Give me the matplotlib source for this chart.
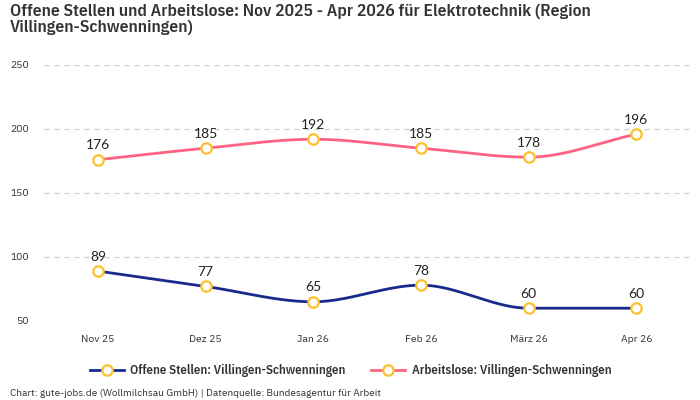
import numpy as np
from matplotlib import pyplot as plt
from matplotlib.lines import Line2D

months = ["Nov 25", "Dez 25", "Jan 26", "Feb 26", "März 26", "Apr 26"]
offene = [89, 77, 65, 78, 60, 60]
arbeitslose = [176, 185, 192, 185, 178, 196]
yticks = [50, 100, 150, 200, 250]

navy = "#1a2a8c"
pink = "#ff6384"
yellow = "#fbc02d"

title_font = ["IBM Plex Sans Condensed", "DejaVu Sans"]
body_font = ["IBM Plex Sans", "DejaVu Sans"]
label_font = ["Lato", "DejaVu Sans"]


def monotone(xs, ys, n=40):
    # Fritsch-Carlson monotone cubic path through the data points
    xs = np.asarray(xs, float)
    ys = np.asarray(ys, float)
    d = np.diff(ys) / np.diff(xs)
    m = np.zeros(len(xs))
    m[0], m[-1] = d[0], d[-1]
    for i in range(1, len(xs) - 1):
        if d[i - 1] * d[i] <= 0:
            m[i] = 0
        else:
            m[i] = (d[i - 1] + d[i]) / 2
    for i in range(len(d)):
        if d[i] == 0:
            m[i] = m[i + 1] = 0
        else:
            a, b = m[i] / d[i], m[i + 1] / d[i]
            s = a * a + b * b
            if s > 9:
                t = 3 / np.sqrt(s)
                m[i], m[i + 1] = t * a * d[i], t * b * d[i]
    px, py = [], []
    for i in range(len(d)):
        h = xs[i + 1] - xs[i]
        t = np.linspace(0, 1, n)
        h00 = 2 * t**3 - 3 * t**2 + 1
        h10 = t**3 - 2 * t**2 + t
        h01 = -2 * t**3 + 3 * t**2
        h11 = t**3 - t**2
        px.extend(xs[i] + t * h)
        py.extend(h00 * ys[i] + h10 * h * m[i] + h01 * ys[i + 1] + h11 * h * m[i + 1])
    return np.array(px), np.array(py)


fig = plt.figure(figsize=(7, 4), dpi=100)
ax = fig.add_axes([0.063, 0.1975, 0.923, 0.64])
x = np.arange(len(months))

for vals, col in [(offene, navy), (arbeitslose, pink)]:
    sx, sy = monotone(x, vals)
    ax.plot(sx, sy, color=col, lw=2, zorder=2)
    ax.plot(x, vals, ls="none", marker="o", ms=7.5, mfc="white", mec=yellow, mew=1.6, zorder=3)
    for xi, v in zip(x, vals):
        ax.annotate(str(v), (xi, v), xytext=(0, 6), textcoords="offset points",
                    ha="center", va="bottom", fontsize=10, color="#222222", family=label_font)

ax.set_xlim(-0.5, len(months) - 0.5)
ax.set_ylim(50, 250)
ax.set_yticks(yticks)
ax.set_xticks(x)
ax.set_xticklabels(months)
ax.grid(axis="y", color="#cccccc", ls=(0, (4, 4)), lw=0.9)
ax.set_axisbelow(True)
for s in ax.spines.values():
    s.set_visible(False)
ax.tick_params(length=0, labelsize=7.5, colors="#333333", pad=10)
ax.tick_params(axis="y", pad=11)
for lab in ax.get_xticklabels() + ax.get_yticklabels():
    lab.set_family(body_font)

fig.text(0.014, 0.99, "Offene Stellen und Arbeitslose: Nov 2025 - Apr 2026 für Elektrotechnik (Region\nVillingen-Schwenningen)",
         ha="left", va="top", fontsize=12.6, fontweight=600, color="#333333",
         family=title_font, linespacing=1.12)

handles = [
    Line2D([], [], color=navy, lw=2, marker="o", ms=7.5, mfc="white", mec=yellow, mew=1.6),
    Line2D([], [], color=pink, lw=2, marker="o", ms=7.5, mfc="white", mec=yellow, mew=1.6),
]
leg = fig.legend(handles, ["Offene Stellen: Villingen-Schwenningen", "Arbeitslose: Villingen-Schwenningen"],
                 loc="center", bbox_to_anchor=(0.501, 0.073), ncol=2, frameon=False,
                 handlelength=2.6, handletextpad=0.5, columnspacing=2.0,
                 prop={"family": title_font, "weight": 600, "size": 9.3})
for t in leg.get_texts():
    t.set_color("#333333")

fig.text(0.014, 0.006, "Chart: gute-jobs.de (Wollmilchsau GmbH) | Datenquelle: Bundesagentur für Arbeit",
         ha="left", va="bottom", fontsize=7.2, color="#333333", family=body_font)

fig.savefig("out.png", dpi=100)
